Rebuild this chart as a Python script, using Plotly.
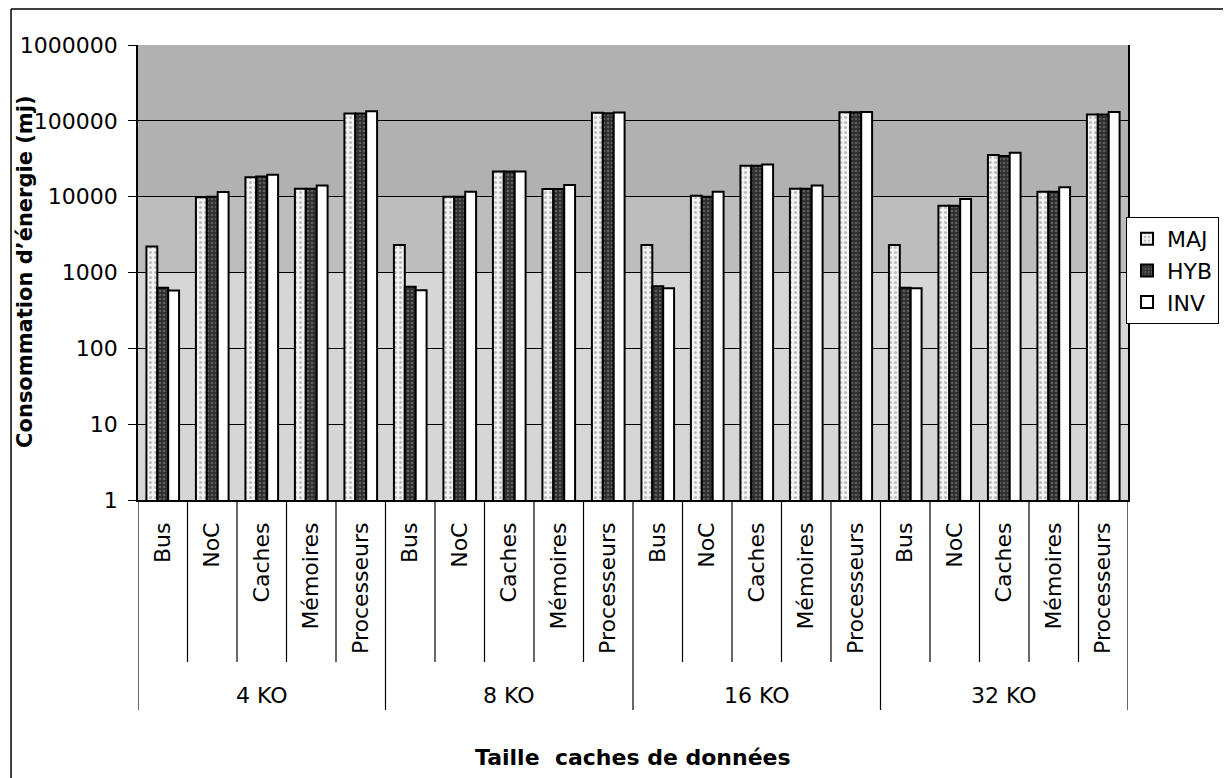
import plotly.graph_objects as go

# ---------------- data ----------------
groups = ["4 KO", "8 KO", "16 KO", "32 KO"]
components = ["Bus", "NoC", "Caches", "Mémoires", "Processeurs"]

maj = [2200, 9800, 18000, 12700, 125000,
       2300, 10000, 21500, 12600, 128000,
       2300, 10300, 25500, 12700, 130000,
       2300, 7600, 35500, 11600, 121000]
hyb = [630, 10000, 18500, 12700, 125000,
       650, 10000, 21500, 12600, 126000,
       660, 10000, 25500, 12700, 130000,
       630, 7600, 34500, 11600, 121000]
inv = [580, 11500, 19500, 14000, 134000,
       585, 11600, 21500, 14200, 129000,
       620, 11600, 26500, 14000, 131000,
       620, 9300, 38000, 13300, 131000]

y_tickvals = [1, 10, 100, 1000, 10000, 100000, 1000000]
y_ticktext = ["1", "10", "100", "1000", "10000", "100000", "1000000"]

x_keys = [f"{g}|{c}" for g in groups for c in components]
x_text = [c for g in groups for c in components]

# ---------------- layout geometry ----------------
# The page adds an 8px body margin, so the figure is offset by 8px.
OFF = 8
W, H = 1231 - OFF, 778 - OFF
L, T = 138 - OFF, 45 - OFF
PLOT_RIGHT, PLOT_BOTTOM = 1136 - OFF, 500 - OFF
R, B = W - PLOT_RIGHT, H - PLOT_BOTTOM
PW, PH = W - L - R, H - T - B


def px_x(px):
    """reference-window pixel x -> paper x"""
    return (px - OFF - L) / PW


def px_y(py):
    """reference-window pixel y -> paper y"""
    return (PLOT_BOTTOM - (py - OFF)) / PH


FONT = "DejaVu Sans"

fig = go.Figure()

fig.add_trace(go.Bar(
    name="MAJ", x=x_keys, y=maj,
    marker=dict(color="#ececec", line=dict(color="black", width=2),
                pattern=dict(shape=".", fgcolor="#8a8a8a", bgcolor="#f2f2f2",
                             size=5, solidity=0.3)),
))
fig.add_trace(go.Bar(
    name="HYB", x=x_keys, y=hyb,
    marker=dict(color="#303030", line=dict(color="black", width=2),
                pattern=dict(shape=".", fgcolor="#8e8e8e", bgcolor="#2e2e2e",
                             size=4, solidity=0.35)),
))
fig.add_trace(go.Bar(
    name="INV", x=x_keys, y=inv,
    marker=dict(color="white", line=dict(color="black", width=2)),
))

shapes = []
# stippled-looking background bands
shapes.append(dict(type="rect", xref="paper", yref="paper", x0=0, x1=1,
                   y0=2 / 3, y1=1, fillcolor="#b1b1b1", line=dict(width=0), layer="below"))
shapes.append(dict(type="rect", xref="paper", yref="paper", x0=0, x1=1,
                   y0=0.5, y1=2 / 3, fillcolor="#bdbdbd", line=dict(width=0), layer="below"))

# category separators below the axis
n = len(x_keys)
for i in range(n + 1):
    big = (i % len(components) == 0)
    shapes.append(dict(type="line", xref="x", yref="paper",
                       x0=i - 0.5, x1=i - 0.5, y0=0,
                       y1=px_y(710 if big else 662),
                       line=dict(color="black", width=1.2)))

# outer chart frame (top and left edges visible)
shapes.append(dict(type="line", xref="paper", yref="paper",
                   x0=px_x(10), x1=px_x(1240), y0=px_y(OFF + 1), y1=px_y(OFF + 1),
                   line=dict(color="black", width=1.5)))
shapes.append(dict(type="line", xref="paper", yref="paper",
                   x0=px_x(10), x1=px_x(10), y0=px_y(OFF + 1), y1=px_y(790),
                   line=dict(color="black", width=1.5)))

annotations = []
for gi, g in enumerate(groups):
    annotations.append(dict(text=g, xref="x", yref="paper",
                            x=gi * len(components) + (len(components) - 1) / 2,
                            y=px_y(695), showarrow=False, yanchor="middle",
                            font=dict(family=FONT, size=22, color="black")))
annotations.append(dict(text="<b>Taille  caches de données</b>", xref="paper", yref="paper",
                        x=0.5, y=px_y(757), showarrow=False, yanchor="middle",
                        font=dict(family=FONT, size=22, color="black")))
annotations.append(dict(text="<b>Consommation d’énergie (mj)</b>", xref="paper", yref="paper",
                        x=px_x(24), y=px_y(272), showarrow=False, textangle=-90,
                        xanchor="center", yanchor="middle",
                        font=dict(family=FONT, size=21, color="black")))

fig.update_layout(
    width=W, height=H,
    margin=dict(l=L, r=R, t=T, b=B, pad=0),
    paper_bgcolor="white",
    plot_bgcolor="#d6d6d6",
    barmode="group", bargap=0.34, bargroupgap=0,
    font=dict(family=FONT, size=22, color="black"),
    showlegend=True,
    legend=dict(x=px_x(1134), y=px_y(217), xanchor="left", yanchor="top",
                bgcolor="white", bordercolor="black", borderwidth=1,
                font=dict(family=FONT, size=22, color="black"),
                itemwidth=30, tracegroupgap=0),
    shapes=shapes,
    annotations=annotations,
    xaxis=dict(
        type="category", tickmode="array", tickvals=x_keys, ticktext=x_text,
        tickangle=-90, ticks="", showgrid=False,
        showline=True, linecolor="black", linewidth=1.5,
        tickfont=dict(family=FONT, size=22, color="black"),
        ticklabelstandoff=12,
        range=[-0.5, n - 0.5],
    ),
    yaxis=dict(
        type="log", range=[0, 6], tickmode="array",
        tickvals=y_tickvals, ticktext=y_ticktext,
        ticks="outside", ticklen=8, tickcolor="black", tickwidth=1.2,
        showgrid=True, gridcolor="black", gridwidth=1.2,
        showline=True, linecolor="black", linewidth=1.5, mirror=True,
        zeroline=False,
        tickfont=dict(family=FONT, size=22, color="black"),
        ticklabelstandoff=6,
    ),
)

fig.write_html("out.html")
